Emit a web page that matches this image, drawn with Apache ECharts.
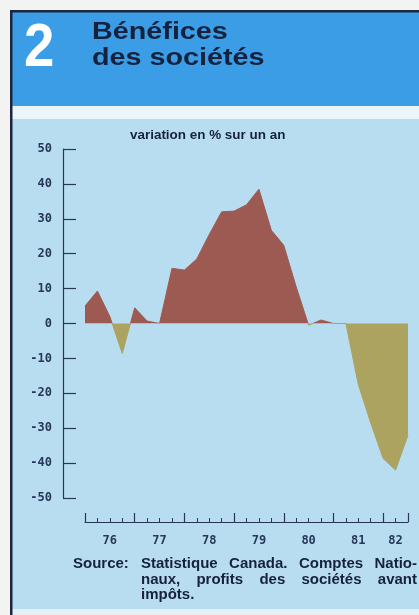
<!DOCTYPE html>
<html><head><meta charset="utf-8">
<script src="https://cdn.jsdelivr.net/npm/echarts@6/dist/echarts.min.js"></script>
<style>html,body{margin:0;padding:0;background:#f3f3f1;}#c{width:419px;height:615px;}</style>
</head><body><div id="c"></div>
<script>
// Quarterly observations (decimal year) and % change over a year
const periods = [1976.00, 1976.25, 1976.50, 1976.75, 1977.00, 1977.25, 1977.50, 1977.75,
                 1978.00, 1978.25, 1978.50, 1978.75, 1979.00, 1979.25, 1979.50, 1979.75,
                 1980.00, 1980.25, 1980.50, 1980.75, 1981.00, 1981.25, 1981.50, 1981.75,
                 1982.00, 1982.25, 1982.50];
const values = [5, 9.3, 2, -8.6, 4.5, 0.7, 0, 15.8,
                15.3, 18.5, 25.5, 32, 32.2, 34, 38.5, 26.7,
                22.4, 10.5, -0.5, 1, 0, 0, -17.5, -28.5,
                -38.7, -42, -32];
const yearLabelPos = [1976.5, 1977.5, 1978.5, 1979.5, 1980.5, 1981.5, 1982.25];
const yearLabels = ['76', '77', '78', '79', '80', '81', '82'];
const titleLines = ['Bénéfices', 'des sociétés'];
const chartNumber = '2';
const subtitle = 'variation en % sur un an';
const sourceLabel = 'Source:';
const sourceLines = [
  ['Statistique', 'Canada.', 'Comptes', 'Natio-'],
  ['naux,', 'profits', 'des', 'sociétés', 'avant'],
  ['impôts.']
];

const POS = '#9d5a52', NEG = '#aba35f', AX = '#26375a', DARK = '#16213d';
const PANEL = '#b9ddf0', HEADER = '#3a9de6';
const SANS = '"Liberation Sans", Arial, sans-serif';
const MONO = '"DejaVu Sans Mono", monospace';

const chart = echarts.init(document.getElementById('c'), null, {renderer: 'canvas'});

// justified source text layout
const srcFont = 'bold 15px ' + SANS;
const ctx = document.createElement('canvas').getContext('2d');
ctx.font = srcFont;
const srcLeft = 141, srcRight = 417, srcY = [564, 579.5, 595];
const textEls = [];
sourceLines.forEach((words, li) => {
  const justify = li < sourceLines.length - 1;
  const widths = words.map(w => ctx.measureText(w).width);
  const total = widths.reduce((a, b) => a + b, 0);
  const gap = justify && words.length > 1 ? (srcRight - srcLeft - total) / (words.length - 1) : ctx.measureText(' ').width;
  let x = srcLeft;
  words.forEach((w, i) => {
    textEls.push({type: 'text', z: 10, style: {text: w, x: x, y: srcY[li], font: srcFont, fill: DARK, verticalAlign: 'middle', align: 'left'}});
    x += widths[i] + gap;
  });
});
textEls.push({type: 'text', z: 10, style: {text: sourceLabel, x: 73, y: srcY[0], font: srcFont, fill: DARK, verticalAlign: 'middle'}});

const option = {
  backgroundColor: PANEL,
  animation: false,
  graphic: [
    {type: 'rect', z: 1, shape: {x: 0, y: 0, width: 10, height: 615}, style: {fill: '#f3f3f1'}},
    {type: 'rect', z: 1, shape: {x: 0, y: 0, width: 419, height: 10}, style: {fill: '#f3f3f1'}},
    {type: 'rect', z: 1, shape: {x: 12, y: 12, width: 407, height: 94}, style: {fill: HEADER}},
    {type: 'rect', z: 1, shape: {x: 12, y: 106, width: 407, height: 13}, style: {fill: '#ecf5f7'}},
    {type: 'rect', z: 1, shape: {x: 12, y: 609, width: 407, height: 6}, style: {fill: '#e4f0f4'}},
    {type: 'rect', z: 2, shape: {x: 10, y: 10, width: 2.5, height: 605}, style: {fill: '#1d2540'}},
    {type: 'rect', z: 2, shape: {x: 10, y: 10, width: 409, height: 2.5}, style: {fill: '#1d2540'}},
    {type: 'text', z: 10, x: 24, y: 49, scaleX: 0.88, style: {text: chartNumber, x: 0, y: 0, font: 'bold 62px ' + SANS, fill: '#ffffff', verticalAlign: 'middle'}},
    {type: 'text', z: 10, x: 92, y: 33, scaleX: 1.25, style: {text: titleLines[0], x: 0, y: 0, font: 'bold 23px ' + SANS, fill: DARK, verticalAlign: 'middle'}},
    {type: 'text', z: 10, x: 92, y: 59, scaleX: 1.25, style: {text: titleLines[1], x: 0, y: 0, font: 'bold 23px ' + SANS, fill: DARK, verticalAlign: 'middle'}},
    {type: 'text', z: 10, x: 130, y: 136, scaleX: 1.12, style: {text: subtitle, x: 0, y: 0, font: 'bold 12px ' + SANS, fill: DARK, verticalAlign: 'middle'}}
  ].concat(textEls),
  grid: {left: 85, right: 11, top: 149, bottom: 117, containLabel: false},
  xAxis: [
    {type: 'value', min: 1976, max: 1982.5, interval: 1, position: 'bottom', offset: 24,
     axisLine: {show: true, onZero: false, lineStyle: {color: AX, width: 1.2}},
     axisTick: {show: true, inside: true, length: 9, lineStyle: {color: AX, width: 1.2}},
     axisLabel: {show: false}, splitLine: {show: false}},
    {type: 'value', min: 1976, max: 1982.5, interval: 0.25, position: 'bottom', offset: 24,
     axisLine: {show: false, onZero: false},
     axisTick: {show: true, inside: true, length: 4, lineStyle: {color: AX, width: 1}},
     axisLabel: {show: true, margin: 13, fontFamily: MONO, fontWeight: 'bold', fontSize: 12, color: AX,
       formatter: function (v) {
         for (let i = 0; i < yearLabelPos.length; i++) {
           if (Math.abs(yearLabelPos[i] - v) < 1e-6) return yearLabels[i];
         }
         return '';
       }},
     splitLine: {show: false}}
  ],
  yAxis: {type: 'value', min: -50, max: 50, interval: 10, offset: 22,
    axisLine: {show: true, onZero: false, lineStyle: {color: AX, width: 1.2}},
    axisTick: {show: true, inside: true, length: 13, lineStyle: {color: AX, width: 1.2}},
    axisLabel: {margin: 11, fontFamily: MONO, fontWeight: 'bold', fontSize: 12, color: AX},
    splitLine: {show: false}},
  visualMap: {type: 'piecewise', show: false, dimension: 1, seriesIndex: 0,
    pieces: [{gte: -100, lt: 0, color: NEG}, {gte: 0, lte: 100, color: POS}],
    outOfRange: {color: POS}},
  series: [{
    type: 'line', xAxisIndex: 0, yAxisIndex: 0, z: 3,
    data: periods.map((p, i) => [p, values[i]]),
    symbol: 'none', showSymbol: false,
    lineStyle: {width: 1},
    areaStyle: {opacity: 1, origin: 0}
  }]
};
chart.setOption(option);
</script>
</body></html>
